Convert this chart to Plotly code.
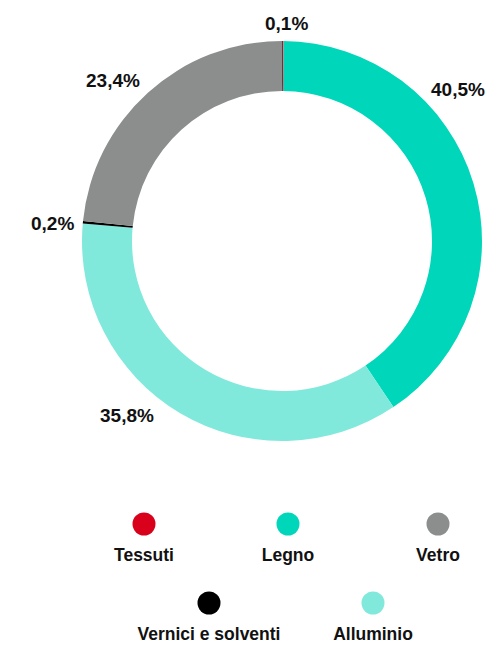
import plotly.graph_objects as go

# ---- data ----
categories = ["Tessuti", "Legno", "Alluminio", "Vernici e solventi", "Vetro"]
values = [0.1, 40.5, 35.8, 0.2, 23.4]
colors = ["#d9001b", "#00d6b9", "#80e9dc", "#000000", "#8c8e8e"]

# legend order (as displayed)
legend_items = ["Tessuti", "Legno", "Vetro", "Vernici e solventi", "Alluminio"]

# ---- layout/style (pixel space of 487x646 canvas) ----
W, H = 487, 646
label_pos = {  # percentage label centres
    "Tessuti": (286, 23),
    "Legno": (458, 89),
    "Alluminio": (127, 415),
    "Vernici e solventi": (52, 223),
    "Vetro": (113, 80),
}
legend_pos = {
    "Tessuti": (144, 524),
    "Legno": (288, 524),
    "Vetro": (438, 524),
    "Vernici e solventi": (209, 603),
    "Alluminio": (373, 603),
}
legend_text_dy = 33
FONT = "Liberation Sans, Arial, sans-serif"

cx, cy, R = 282, 241, 200

fig = go.Figure()
fig.add_trace(go.Pie(
    labels=categories,
    values=values,
    marker=dict(colors=colors, line=dict(width=0)),
    hole=0.75,
    sort=False,
    direction="clockwise",
    rotation=0,
    textinfo="none",
    hoverinfo="label+percent",
    showlegend=False,
    domain=dict(x=[(cx - R) / W, (cx + R) / W], y=[1 - (cy + R) / H, 1 - (cy - R) / H]),
))

color_of = dict(zip(categories, colors))
fig.add_trace(go.Scatter(
    x=[legend_pos[c][0] for c in legend_items],
    y=[legend_pos[c][1] for c in legend_items],
    mode="markers",
    marker=dict(size=23, color=[color_of[c] for c in legend_items], line=dict(width=0)),
    hoverinfo="skip",
    showlegend=False,
))
fig.add_trace(go.Scatter(
    x=[legend_pos[c][0] for c in legend_items],
    y=[legend_pos[c][1] + legend_text_dy for c in legend_items],
    mode="text",
    text=[f"<b>{c}</b>" for c in legend_items],
    textposition="middle center",
    textfont=dict(family=FONT, size=17.5, color="#111111"),
    hoverinfo="skip",
    showlegend=False,
))

annotations = []
for c, v in zip(categories, values):
    x, y = label_pos[c]
    annotations.append(dict(
        x=x, y=y, xref="x", yref="y",
        text="<b>" + f"{v:.1f}%".replace(".", ",") + "</b>",
        showarrow=False,
        font=dict(family=FONT, size=19, color="#111111"),
        xanchor="center", yanchor="middle",
    ))

fig.update_layout(
    width=W, height=H,
    margin=dict(l=0, r=0, t=0, b=0),
    paper_bgcolor="white",
    plot_bgcolor="rgba(0,0,0,0)",
    xaxis=dict(range=[0, W], visible=False, fixedrange=True, domain=[0, 1]),
    yaxis=dict(range=[H, 0], visible=False, fixedrange=True, domain=[0, 1]),
    annotations=annotations,
    font=dict(family=FONT),
)

fig.write_html(
    "out.html",
    config={"displayModeBar": False},
    post_script="document.body.style.margin='0';document.body.style.overflow='hidden';",
)
